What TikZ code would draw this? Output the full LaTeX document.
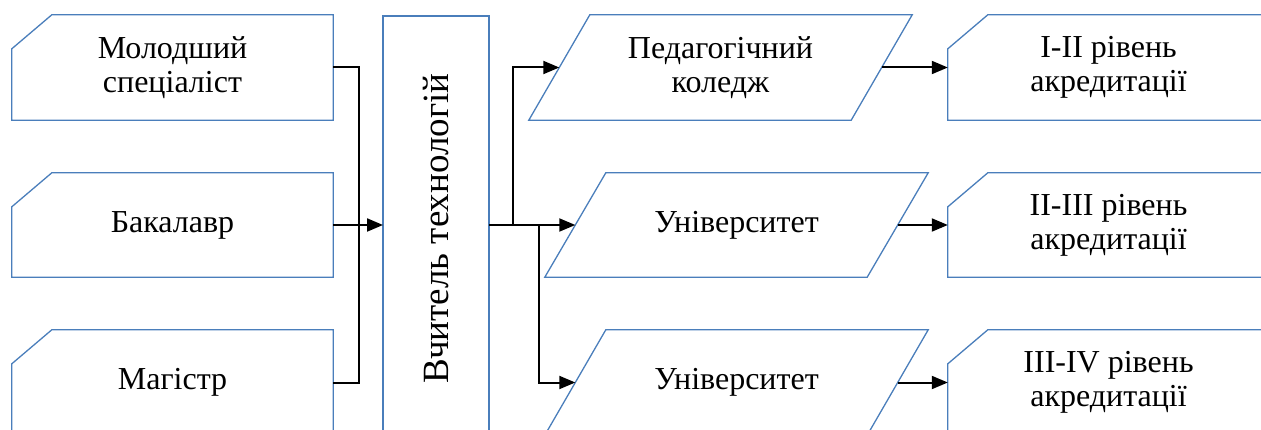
\documentclass[tikz,border=0pt]{standalone}
\usepackage{fontspec}
\setmainfont{Liberation Serif}
\usetikzlibrary{arrows.meta,calc}
\definecolor{boxblue}{RGB}{74,126,187}
\tikzset{
  lbl/.style={inner sep=0pt, align=center, font=\fontsize{32}{34}\selectfont},
  outline/.style={draw=boxblue, line width=1.3pt, line join=miter},
  conn/.style={draw=black, line width=2pt},
  arr/.style={conn, -{Triangle[length=16pt,width=13pt]}},
}
\begin{document}
\begin{tikzpicture}[x=1pt,y=-1pt]
\useasboundingbox (0,0) rectangle (1261,430);
\clip (0,0) rectangle (1261,430);
% left boxes
\node[lbl, minimum width=321pt, minimum height=105pt] (m1) at (172.5,67.5) {Молодший\\спеціаліст};
\node[lbl, minimum width=321pt, minimum height=104pt] (m2) at (172.5,225) {Бакалавр};
\node[lbl, minimum width=321pt, minimum height=105pt] (m3) at (172.5,382.5) {Магістр};
\foreach \n in {m1,m2,m3}{
  \draw[outline] ([xshift=40pt]\n.north west) -- (\n.north east) -- (\n.south east) -- (\n.south west) -- ([yshift=-34pt]\n.north west) -- cycle;
}
% centre box
\node[lbl, rotate=90, draw=boxblue, line width=1.3pt, minimum width=425pt, minimum height=106pt, font=\fontsize{37}{40}\selectfont] (t) at (436,228.5) {Вчитель технологій};
% parallelograms
\node[lbl, minimum width=383pt, minimum height=105pt] (p1) at (720.5,67.5) {Педагогічний\\коледж};
\node[lbl, minimum width=383pt, minimum height=104pt] (p2) at (736.5,225) {Університет};
\node[lbl, minimum width=383pt, minimum height=105pt] (p3) at (736.5,382.5) {Університет};
\foreach \n in {p1,p2,p3}{
  \draw[outline] ([xshift=61pt]\n.north west) -- (\n.north east) -- ([xshift=-61pt]\n.south east) -- (\n.south west) -- cycle;
}
\coordinate (p1-in) at ([xshift=30.5pt]p1.west);
\coordinate (p2-in) at ([xshift=30.5pt]p2.west);
\coordinate (p3-in) at ([xshift=30.5pt]p3.west);
\coordinate (p1-out) at ([xshift=-30.5pt]p1.east);
\coordinate (p2-out) at ([xshift=-30.5pt]p2.east);
\coordinate (p3-out) at ([xshift=-30.5pt]p3.east);
% right boxes
\node[lbl, minimum width=321pt, minimum height=105pt] (r1) at (1108.5,67.5) {I-II рівень\\акредитації};
\node[lbl, minimum width=321pt, minimum height=104pt] (r2) at (1108.5,225) {II-III рівень\\акредитації};
\node[lbl, minimum width=321pt, minimum height=105pt] (r3) at (1108.5,382.5) {III-IV рівень\\акредитації};
\foreach \n in {r1,r2,r3}{
  \draw[outline] ([xshift=40pt]\n.north west) -- (\n.north east) -- (\n.south east) -- (\n.south west) -- ([yshift=-34pt]\n.north west) -- cycle;
}
% connectors
\coordinate (busL) at (359,225);
\coordinate (tin) at (383,225);
\coordinate (tout) at (489,225);
\coordinate (j1) at (513,225);
\coordinate (j2) at (539,225);
\draw[conn] (m1.east) -| (busL);
\draw[conn] (m3.east) -| (busL);
\draw[arr] (m2.east) -- (tin);
\draw[arr] (tout) -- (p2-in);
\draw[arr] (j1) |- (p1-in);
\draw[arr] (j2) |- (p3-in);
\draw[arr] (p1-out) -- (r1.west);
\draw[arr] (p2-out) -- (r2.west);
\draw[arr] (p3-out) -- (r3.west);
\end{tikzpicture}
\end{document}
